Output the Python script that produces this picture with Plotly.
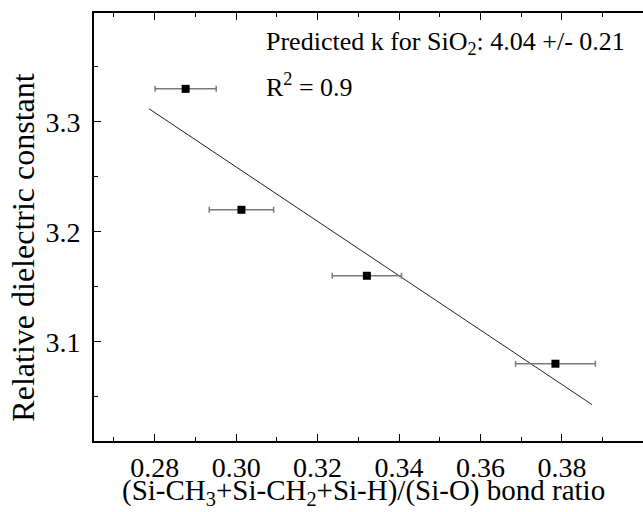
import numpy as np
import plotly.graph_objects as go

# Data
bond_ratio = [0.2876, 0.3013, 0.3321, 0.3784]
bond_ratio_err = [0.0075, 0.0079, 0.0085, 0.0098]
dielectric_k = [3.33, 3.22, 3.16, 3.08]
fit_x = [0.2786, 0.3874]

x_ticks = [0.28, 0.30, 0.32, 0.34, 0.36, 0.38]
y_ticks = [3.1, 3.2, 3.3]

slope, intercept = np.polyfit(bond_ratio, dielectric_k, 1)
fit_y = [slope * v + intercept for v in fit_x]

FONT = "Liberation Serif"

fig = go.Figure()
fig.add_trace(go.Scatter(
    x=fit_x, y=fit_y, mode="lines",
    line=dict(color="#222222", width=1), showlegend=False, hoverinfo="skip"))
fig.add_trace(go.Scatter(
    x=bond_ratio, y=dielectric_k, mode="markers",
    marker=dict(symbol="square", size=8, color="black"),
    error_x=dict(type="data", array=bond_ratio_err, visible=True,
                 color="#7a7a7a", thickness=1.5, width=3),
    showlegend=False))

fig.update_layout(
    width=643, height=512,
    margin=dict(l=94, r=0, t=13, b=71),
    paper_bgcolor="white", plot_bgcolor="white",
    font=dict(family=FONT, color="black", size=28),
    xaxis=dict(range=[0.2651, 0.3999], tickvals=x_ticks,
               ticktext=[f"{v:.2f}" for v in x_ticks],
               ticks="inside", ticklen=7, tickwidth=1.2, tickcolor="black",
               minor=dict(ticks="inside", ticklen=4, tickwidth=1.2, dtick=0.01, tick0=0.27, tickcolor="black"),
               showline=True, linecolor="black", linewidth=1.8, mirror="allticks",
               showgrid=False, zeroline=False, tickfont=dict(family=FONT, size=28),
               ticklabelstandoff=0),
    yaxis=dict(range=[3.0097, 3.399], tickvals=y_ticks,
               ticktext=[f"{v:.1f}" for v in y_ticks],
               ticks="inside", ticklen=7, tickwidth=1.2, tickcolor="black",
               minor=dict(ticks="inside", ticklen=4, tickwidth=1.2, dtick=0.05, tick0=3.05, tickcolor="black"),
               showline=True, linecolor="black", linewidth=1.8, mirror=False,
               showgrid=False, zeroline=False, tickfont=dict(family=FONT, size=28),
               ticklabelstandoff=6),
    annotations=[
        dict(text="(Si-CH<sub>3</sub>+Si-CH<sub>2</sub>+Si-H)/(Si-O) bond ratio",
             xref="paper", yref="paper", x=0.49, y=-0.119, xanchor="center", yanchor="middle",
             showarrow=False, font=dict(family=FONT, size=29)),
        dict(text="Relative dielectric constant", textangle=-90,
             xref="paper", yref="paper", x=-0.131, y=0.452, xanchor="center", yanchor="middle",
             showarrow=False, font=dict(family=FONT, size=32)),
        dict(text="Predicted k for SiO<sub>2</sub>: 4.04 +/- 0.21",
             xref="paper", yref="paper", x=0.31, y=0.93, xanchor="left", yanchor="middle",
             showarrow=False, font=dict(family=FONT, size=26)),
        dict(text="R<sup>2</sup> = 0.9",
             xref="paper", yref="paper", x=0.31, y=0.83, xanchor="left", yanchor="middle",
             showarrow=False, font=dict(family=FONT, size=26)),
    ],
)

fig.write_html("out.html")
